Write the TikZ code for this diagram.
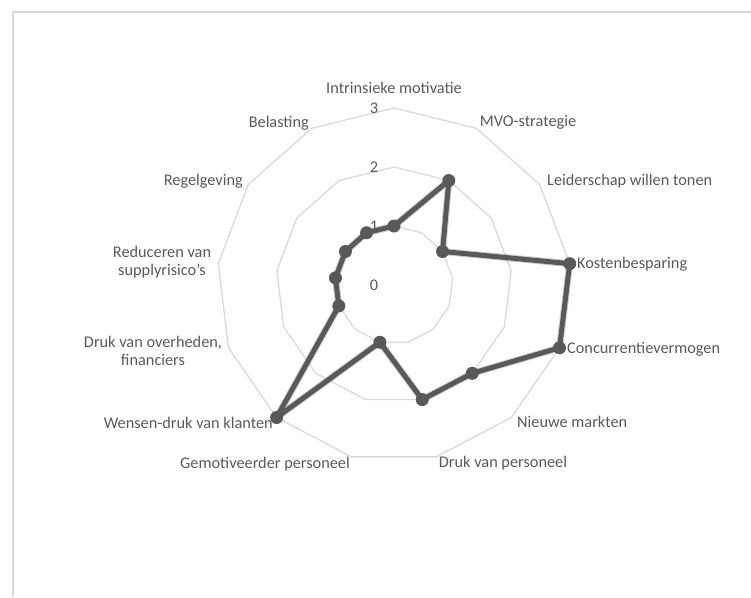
\documentclass[tikz,border=0pt]{standalone}
\usepackage{fontspec}
\setmainfont{Carlito}
\definecolor{gridc}{RGB}{217,217,217}
\definecolor{txtc}{RGB}{89,89,89}
\definecolor{serc}{RGB}{89,89,89}
\tikzset{
  gridline/.style={draw=gridc, line width=1.3pt, line join=round},
  frameline/.style={draw=gridc, line width=1.5pt},
  lbl/.style={text=txtc, inner sep=0pt, font=\fontsize{16.3}{18.5}\selectfont},
  ticklbl/.style={lbl, anchor=base},
  series/.style={draw=serc, line width=5pt, line join=round},
  seriesshadow/.style={draw=black, opacity=0.18, line width=7pt, line join=round},
  marker/.style={circle, fill=serc, minimum size=13pt, inner sep=0pt},
}
\begin{document}
\begin{tikzpicture}[x=1pt, y=-1pt]
  \useasboundingbox (0,0) rectangle (751,597);
  % chart area frame
  \draw[frameline] (13,597) -- (13,12) -- (751,12);

  \begin{scope}[shift={(394,285)}]
    % grid rings at 1, 2 and 3
    \foreach \r in {59,118,177} {
      \draw[gridline] (-90:\r) \foreach \i in {1,...,12} { -- ({-90+\i*360/13}:\r) } -- cycle;
    }
    % data points
    \foreach \v [count=\i from 0] in {1,2,1,3,3,2,2,1,3,1,1,1,1} {
      \coordinate (p\i) at ({-90+\i*360/13}:{\v*59});
    }
    % soft shadow of the series
    \begin{scope}[shift={(1.5,2)}]
      \draw[seriesshadow] (p0) -- (p1) -- (p2) -- (p3) -- (p4) -- (p5) -- (p6)
        -- (p7) -- (p8) -- (p9) -- (p10) -- (p11) -- (p12) -- cycle;
    \end{scope}
    \draw[series] (p0) -- (p1) -- (p2) -- (p3) -- (p4) -- (p5) -- (p6)
      -- (p7) -- (p8) -- (p9) -- (p10) -- (p11) -- (p12) -- cycle;
    \foreach \i in {0,...,12} {
      \node[marker] (m\i) at (p\i) {};
    }
  \end{scope}

  % value axis labels
  \node[ticklbl] (t0) at (374,290) {0};
  \node[ticklbl] (t1) at (374,231) {1};
  \node[ticklbl] (t2) at (374,172) {2};
  \node[ticklbl] (t3) at (374,113) {3};

  % category labels
  \node[lbl, anchor=base] (c0) at (394,93) {Intrinsieke motivatie};
  \node[lbl, anchor=base] (c1) at (528,126) {MVO-strategie};
  \node[lbl, anchor=base west] (c2) at (547,185) {Leiderschap willen tonen};
  \node[lbl, anchor=base west] (c3) at (577,268) {Kostenbesparing};
  \node[lbl, anchor=base west] (c4) at (567,353) {Concurrentievermogen};
  \node[lbl, anchor=base west] (c5) at (517,427) {Nieuwe markten};
  \node[lbl, anchor=base] (c6) at (503,467) {Druk van personeel};
  \node[lbl, anchor=base east] (c7) at (350,468) {Gemotiveerder personeel};
  \node[lbl, anchor=base east] (c8) at (273,428) {Wensen-druk van klanten};
  \node[lbl, align=center, anchor=center] (c9) at (153,351) {Druk van overheden,\\financiers};
  \node[lbl, align=center, anchor=center] (c10) at (162,262) {Reduceren van\\supplyrisico’s};
  \node[lbl, anchor=base east] (c11) at (243,185) {Regelgeving};
  \node[lbl, anchor=base east] (c12) at (309,127) {Belasting};
\end{tikzpicture}
\end{document}
